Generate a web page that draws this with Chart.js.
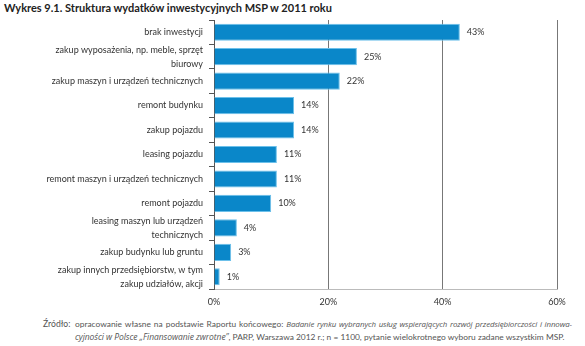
<!DOCTYPE html>
<html>
<head>
<meta charset="utf-8">
<script src="https://cdn.jsdelivr.net/npm/chart.js@4"></script>
<style>
  body { margin: 0; background: #fff; font-family: Lato, sans-serif; }
  #wrap { position: relative; width: 585px; height: 346px; }
  #title { position: absolute; left: 4px; top: 1px; font-size: 11px; font-weight: bold; color: #222; white-space: nowrap; }
  #chartBox { position: absolute; left: 0; top: 0; width: 585px; height: 312px; }
  .src { position: absolute; font-size: 8.4px; color: #555; white-space: nowrap; line-height: 12px; }
  .src i { font-family: "Open Sans", sans-serif; font-size: 8.5px; font-weight: 400; letter-spacing: -0.05px; }
  #line1 { width: 497px; white-space: normal; text-align: justify; text-align-last: justify; height: 12px; overflow: visible; }
  #line1 i { font-size: 7.9px; letter-spacing: -0.1px; }
</style>
</head>
<body>
<div id="wrap">
  <div id="title">Wykres 9.1. Struktura wydatków inwestycyjnych MSP w 2011 roku</div>
  <div id="chartBox"><canvas id="myChart" width="585" height="312"></canvas></div>
  <div class="src" style="left:43px; top:318px; font-size:8.6px;">Źródło:</div>
  <div class="src" id="line1" style="left:75px; top:318px;">opracowanie własne na podstawie Raportu końcowego: <i>Badanie rynku wybranych usług wspierających rozwój przedsiębiorczości i innowa-</i></div>
  <div class="src" style="left:75px; top:331px;"><i>cyjności w Polsce „Finansowanie zwrotne”</i>, PARP, Warszawa 2012 r.; n = 1100, pytanie wielokrotnego wyboru zadane wszystkim MSP.</div>
</div>
<script>
const labels = [
    'brak inwestycji',
    ['zakup wyposażenia, np. meble, sprzęt', 'biurowy'],
    'zakup maszyn i urządzeń technicznych',
    'remont budynku',
    'zakup pojazdu',
    'leasing pojazdu',
    'remont maszyn i urządzeń technicznych',
    'remont pojazdu',
    ['leasing maszyn lub urządzeń', 'technicznych'],
    'zakup budynku lub gruntu',
    ['zakup innych przedsiębiorstw, w tym', 'zakup udziałów, akcji']
];
const values = [43, 25, 22, 14, 14, 11, 11, 10, 4, 3, 1];
const xTicks = [0, 20, 40, 60];

const valueLabels = {
    id: 'valueLabels',
    afterDatasetsDraw(chart) {
        const ctx = chart.ctx;
        const meta = chart.getDatasetMeta(0);
        ctx.save();
        ctx.font = '9px Lato, sans-serif';
        ctx.fillStyle = '#333';
        ctx.textBaseline = 'middle';
        meta.data.forEach(function (bar, i) {
            ctx.fillText(values[i] + '%', bar.x + 7, bar.y);
        });
        ctx.restore();
    }
};

const ctx = document.getElementById('myChart');

new Chart(ctx, {
    type: 'bar',
    data: {
        labels: labels,
        datasets: [{
            data: values,
            backgroundColor: '#0a87c9',
            borderColor: '#6cc0ea',
            borderWidth: 1,
            barPercentage: 0.7,
            categoryPercentage: 1
        }]
    },
    plugins: [valueLabels],
    options: {
        indexAxis: 'y',
        responsive: false,
        animation: false,
        layout: { padding: { top: 20, right: 28, left: 0, bottom: 0 } },
        plugins: {
            legend: { display: false },
            tooltip: { enabled: false }
        },
        scales: {
            x: {
                min: 0,
                max: 60,
                afterBuildTicks: function (scale) {
                    scale.ticks = xTicks.map(function (v) { return { value: v }; });
                },
                afterFit: function (scale) { scale.height = 23; },
                grid: { color: '#777', drawTicks: false, lineWidth: 1 },
                border: { display: true, color: '#bbb' },
                ticks: {
                    padding: 8,
                    color: '#333',
                    font: { family: 'Lato', size: 9 },
                    callback: function (v) { return v + '%'; }
                }
            },
            y: {
                afterFit: function (scale) { scale.width = 214; },
                grid: { drawOnChartArea: false, drawTicks: true, tickLength: 5, color: '#555' },
                border: { display: true, color: '#555' },
                ticks: {
                    autoSkip: false,
                    padding: 6,
                    color: '#333',
                    font: { family: 'Lato', size: 9, lineHeight: 1.55 }
                }
            }
        }
    }
});
</script>
</body>
</html>
